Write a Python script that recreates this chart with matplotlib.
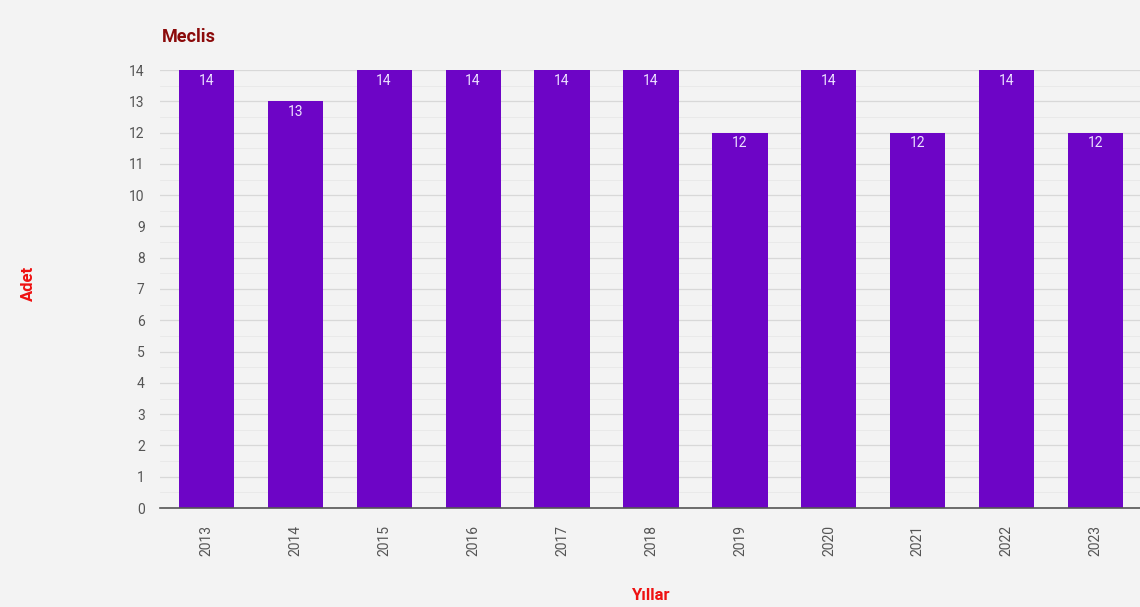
import matplotlib
matplotlib.use("Agg")
import matplotlib.pyplot as plt
import numpy as np

years = ["2013", "2014", "2015", "2016", "2017", "2018", "2019", "2020", "2021", "2022", "2023"]
counts = [14, 13, 14, 14, 14, 14, 12, 14, 12, 14, 12]

plt.rcParams['font.family'] = ['Roboto', 'DejaVu Sans']

fig = plt.figure(figsize=(11.4, 6.07), dpi=100)
fig.patch.set_facecolor('#f3f3f3')
ax = fig.add_axes([160 / 1140, 1 - 508 / 607, 982 / 1140, 438 / 607])
ax.set_facecolor('none')

x = np.arange(len(years))
bars = ax.bar(x, counts, width=0.62, color='#6d05c6', zorder=3)
for xi, v in zip(x, counts):
    ax.text(xi, v - 0.12, str(v), ha='center', va='top', color='#ece0ff', fontsize=10, zorder=4)

ax.set_xlim(-0.52, len(years) - 0.48)
ax.set_ylim(0, 14)
ax.set_yticks(range(0, 15))
ax.set_yticks(np.arange(0.5, 14, 1), minor=True)
ax.grid(axis='y', which='major', color='#d8d8d8', linewidth=0.9, zorder=0)
ax.grid(axis='y', which='minor', color='#e8e8e8', linewidth=0.6, zorder=0)
ax.set_xticks(x)
ax.set_xticklabels(years, rotation=90)
ax.tick_params(axis='both', which='both', length=0, colors='#555555', labelsize=10)
ax.tick_params(axis='x', pad=12)
ax.tick_params(axis='y', pad=11)
for s in ['top', 'right', 'left']:
    ax.spines[s].set_visible(False)
ax.spines['bottom'].set_color('#555555')
ax.spines['bottom'].set_linewidth(1.2)
ax.spines['bottom'].set_zorder(5)

fig.text(162 / 1140, 1 - 37 / 607, "Meclis", color='#8b0a0a', fontsize=13, fontweight='bold', va='center', ha='left')
fig.text(28 / 1140, 1 - 283 / 607, "Adet", color='#ee1111', fontsize=12, fontweight='bold', rotation=90, va='center', ha='center')
fig.text(650 / 1140, 1 - 596 / 607, "Yıllar", color='#ee1111', fontsize=12, fontweight='bold', va='center', ha='center')

fig.savefig("out.png", dpi=100, facecolor=fig.get_facecolor())
